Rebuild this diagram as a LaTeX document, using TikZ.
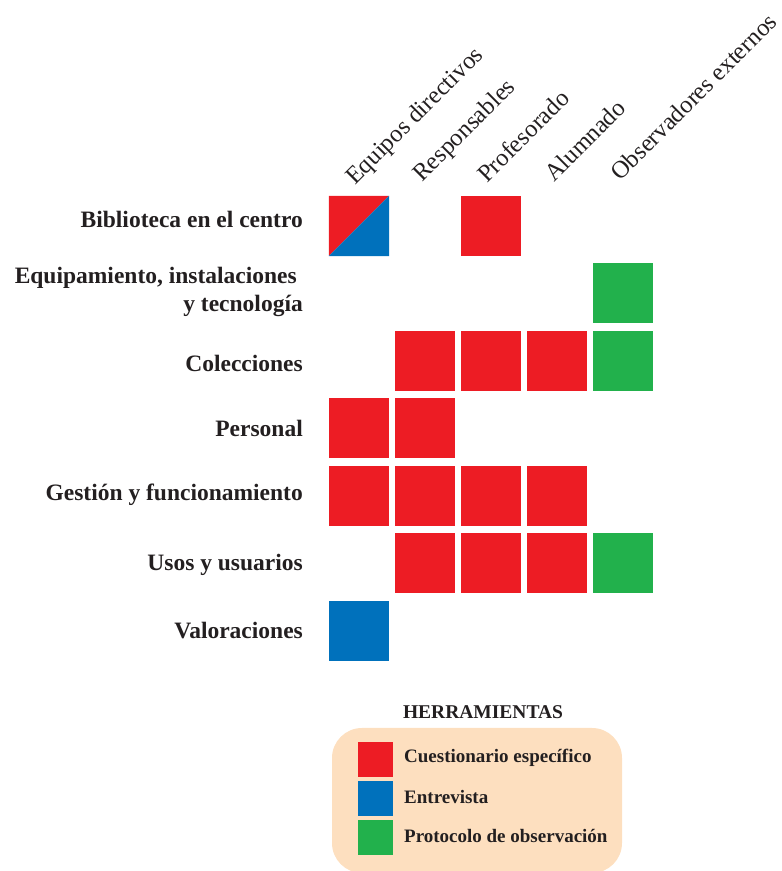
\documentclass[tikz,border=0pt]{standalone}
\usepackage{fontspec}
\setmainfont{Liberation Serif}
\usetikzlibrary{positioning}
\definecolor{rojo}{HTML}{ED1C24}
\definecolor{azul}{HTML}{0071BC}
\definecolor{verde}{HTML}{22B14C}
\definecolor{melocoton}{HTML}{FDDFBF}
\definecolor{texto}{HTML}{231F20}

\begin{document}
\begin{tikzpicture}[x=1pt,y=1pt,
    cell/.style={minimum size=60pt,inner sep=0pt,fill=#1},
    fila/.style={anchor=east,align=right,inner sep=0pt,text=texto,font=\fontsize{23.5}{28}\selectfont\bfseries},
    colhead/.style={anchor=base west,rotate=45,inner sep=0pt,text=texto,font=\fontsize{24.5}{28}\selectfont},
    leybox/.style={minimum size=35pt,inner sep=0pt,fill=#1},
    leytxt/.style={anchor=west,inner sep=0pt,text=texto,font=\fontsize{19}{21}\selectfont\bfseries}]
\useasboundingbox (0,0) rectangle (782,871);

% cabeceras de columna
\node[colhead] (equipos) at (355,685) {Equipos directivos};
\node[colhead] (resp) at (422,688) {Responsables};
\node[colhead] (prof) at (487,687) {Profesorado};
\node[colhead] (alum) at (554,688) {Alumnado};
\node[colhead] (obs) at (620,689) {Observadores externos};

% filas
\node[fila] (biblio) at (303,652) {Biblioteca en el centro};
\node[fila] (equip) at (303,579) {Equipamiento, instalaciones\hspace*{6pt}\\ y tecnología};
\node[fila] (colec) at (303,508) {Colecciones};
\node[fila] (pers) at (303,443) {Personal};
\node[fila] (gest) at (303,376) {Gestión y funcionamiento};
\node[fila] (usos) at (303,306) {Usos y usuarios};
\node[fila] (valor) at (303,240) {Valoraciones};

% celdas: nombre / x / y / color
\node[minimum size=60pt,inner sep=0pt] (c11) at (359,645) {};
\fill[rojo] (c11.north west) -- (c11.north east) -- (c11.south west) -- cycle;
\fill[azul] (c11.north east) -- (c11.south east) -- (c11.south west) -- cycle;
\foreach \nombre/\x/\y/\c in {c13/491/645/rojo,
    c25/623/578/verde,
    c32/425/510/rojo, c33/491/510/rojo, c34/557/510/rojo, c35/623/510/verde,
    c41/359/443/rojo, c42/425/443/rojo,
    c51/359/375/rojo, c52/425/375/rojo, c53/491/375/rojo, c54/557/375/rojo,
    c62/425/308/rojo, c63/491/308/rojo, c64/557/308/rojo, c65/623/308/verde,
    c71/359/240/azul}
  \node[cell=\c] (\nombre) at (\x,\y) {};

% leyenda
\node[text=texto,inner sep=0pt,font=\fontsize{19.5}{21}\selectfont\bfseries] (herr) at (483,159) {HERRAMIENTAS};
\fill[melocoton,rounded corners=30pt] (332,-2) rectangle (622,143);
\node[leybox=rojo] (lrojo) at (375.5,111.5) {};
\node[leybox=azul] (lazul) at (375.5,72.5) {};
\node[leybox=verde] (lverde) at (375.5,33.5) {};
\node[leytxt] (tcuest) at (404,113) {Cuestionario específico};
\node[leytxt] (tentre) at (404,74) {Entrevista};
\node[leytxt] (tproto) at (404,35) {Protocolo de observación};
\end{tikzpicture}
\end{document}
